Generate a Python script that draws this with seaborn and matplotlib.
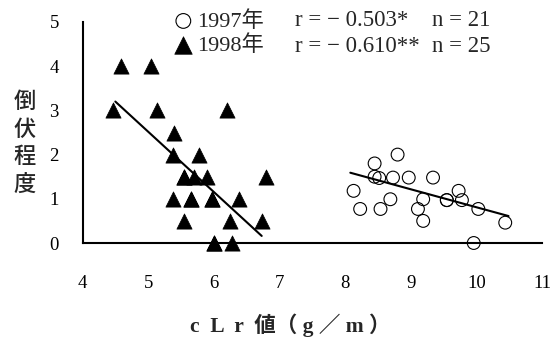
import numpy as np
import pandas as pd
import matplotlib
matplotlib.use("Agg")
import matplotlib.pyplot as plt
import seaborn as sns

# ---- data ----
clr_1997 = [8.80, 8.45, 8.45, 8.52, 8.73, 8.97, 9.34, 8.13, 8.69, 9.19, 9.73,
            9.55, 9.78, 8.23, 8.54, 9.11, 10.03, 9.19, 10.44, 9.96, 9.55]
lodging_1997 = [2.00, 1.80, 1.50, 1.47, 1.48, 1.48, 1.48, 1.18, 0.99, 0.99, 1.18,
                0.97, 0.97, 0.77, 0.77, 0.77, 0.77, 0.50, 0.46, 0.00, 0.97]
clr_1998 = [4.58, 5.05, 4.46, 5.13, 6.20, 5.40, 5.38, 5.78, 5.55, 5.70, 5.90,
            6.80, 5.38, 5.66, 5.97, 6.39, 5.54, 6.24, 6.74, 6.01, 6.27,
            5.55, 5.97, 6.01, 5.66]
lodging_1998 = [4.0, 4.0, 3.0, 3.0, 3.0, 2.5, 2.0, 2.0, 1.5, 1.5, 1.5,
                1.5, 1.0, 1.0, 1.0, 1.0, 0.5, 0.5, 0.5, 0.0, 0.0,
                1.5, 1.0, 0.0, 1.0]
fit_x_1997 = [8.08, 10.49]
fit_y_1997 = [1.59, 0.61]
fit_x_1998 = [4.50, 6.73]
fit_y_1998 = [3.20, 0.16]
x_ticks = [4, 5, 6, 7, 8, 9, 10, 11]
y_ticks = [0, 1, 2, 3, 4, 5]
series_labels = ["1997年", "1998年"]
r_labels = ["r = − 0.503*", "r = − 0.610**"]
n_labels = ["n = 21", "n = 25"]

sns.set_style("white")
serif = ["Liberation Serif", "Noto Sans CJK JP"]
plt.rcParams["font.family"] = serif

W, H = 553, 341
fig = plt.figure(figsize=(W / 100, H / 100), dpi=100)
ax = fig.add_axes([82.5 / W, 1 - 243 / H, (542 - 82.5) / W, (243 - 22) / H])

df97 = pd.DataFrame({"x": clr_1997, "y": lodging_1997})
df98 = pd.DataFrame({"x": clr_1998, "y": lodging_1998})

sns.scatterplot(data=df97, x="x", y="y", ax=ax, marker="o", s=85,
                facecolor="none", edgecolor="black", linewidth=0.8,
                clip_on=False, zorder=3, label=series_labels[0])
sns.scatterplot(data=df98, x="x", y="y", ax=ax, marker="^", s=120,
                color="black", edgecolor="black", linewidth=0.5,
                clip_on=False, zorder=3, label=series_labels[1])
sns.lineplot(x=fit_x_1997, y=fit_y_1997, ax=ax, color="black", lw=1.5, zorder=4)
sns.lineplot(x=fit_x_1998, y=fit_y_1998, ax=ax, color="black", lw=1.5, zorder=4)

ax.set_xlim(4, 11)
ax.set_ylim(0, 5)
ax.set_xticks(x_ticks)
ax.set_yticks(y_ticks)
ax.set_xticklabels([str(t) for t in x_ticks])
ax.set_yticklabels([str(t) for t in y_ticks])
for s in ["top", "right"]:
    ax.spines[s].set_visible(False)
for s in ["left", "bottom"]:
    ax.spines[s].set_linewidth(1.5)
    ax.spines[s].set_color("black")
ax.tick_params(axis="y", direction="in", length=6.5, width=1.3, pad=17,
               labelsize=13.5, colors="black")
ax.tick_params(axis="x", direction="in", length=5, width=1.3, pad=23,
               labelsize=13.5, colors="black")

ax.set_xlabel("c  L  r  値（ g ／ m ）", fontsize=15.5, fontweight="bold",
              family=serif)
ax.xaxis.set_label_coords((290 - 82.5) / 459.5, -(313 - 243) / 221)
ax.set_ylabel("倒\n伏\n程\n度", rotation=0, fontsize=16, fontweight="medium",
              family=["Noto Sans CJK JP"], linespacing=1.25, va="center", ha="center")
ax.yaxis.set_label_coords((25 - 82.5) / 459.5, (243 - 143) / 221)

leg = ax.legend(loc="upper left", bbox_to_anchor=(170 / W, 1 - 11 / H),
                bbox_transform=fig.transFigure, frameon=False,
                handletextpad=0.0, handlelength=1.2, labelspacing=0.15,
                borderpad=0, borderaxespad=0, markerscale=1.15,
                prop={"family": serif, "size": 16})
for t, row_y in zip(r_labels, [20, 46]):
    fig.text(295 / W, 1 - row_y / H, t, fontsize=16.5, va="center", ha="left")
for t, row_y in zip(n_labels, [20, 46]):
    fig.text(432 / W, 1 - row_y / H, t, fontsize=16.5, va="center", ha="left")

fig.savefig("out.png", dpi=100, facecolor="white")
